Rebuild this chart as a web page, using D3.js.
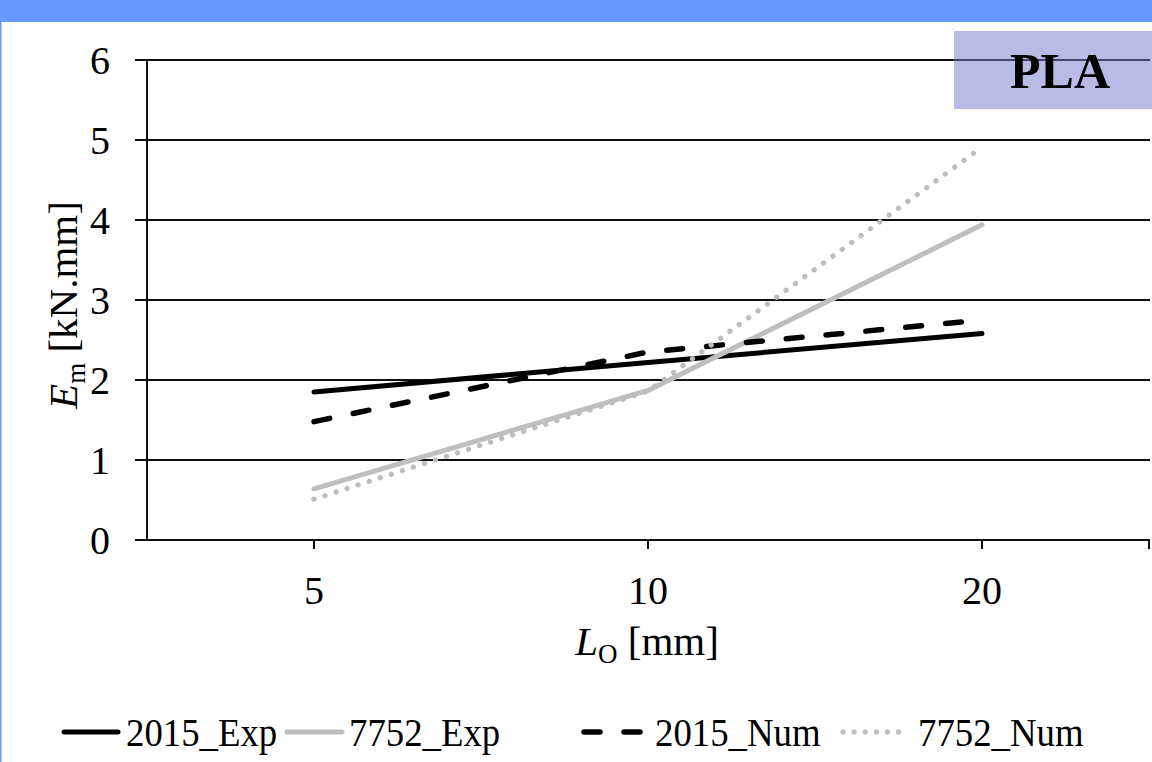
<!DOCTYPE html>
<html>
<head>
<meta charset="utf-8">
<script src="https://cdn.jsdelivr.net/npm/d3@7"></script>
<style>
  body { margin: 0; background: #fff; }
  svg { display: block; }
  text { font-family: "Liberation Serif", "Times New Roman", serif; fill: #000; }
</style>
</head>
<body>
<svg id="chart" width="1152" height="762"></svg>
<script>
// Gauge length categories (mm)
const categories = ["5", "10", "20"];
// Series names
const seriesNames = ["2015_Exp", "7752_Exp", "2015_Num", "7752_Num"];
// E_m values in kN.mm
const exp2015 = [1.85, 2.22, 2.58];
const exp7752 = [0.64, 1.87, 3.94];
const num2015 = [1.48, 2.35, 2.75];
const num7752 = [0.51, 1.86, 4.91];
// Y axis ticks
const yTicks = [0, 1, 2, 3, 4, 5, 6];

const seriesValues = [exp2015, exp7752, num2015, num7752];
const seriesStyle = [
  { color: "#000000", width: 5, dash: null },
  { color: "#BFBFBF", width: 5, dash: null },
  { color: "#000000", width: 5.5, dash: "16,24" },
  { color: "#BDBDBD", width: 5.2, dash: "0.1,11.5" }
];

const svg = d3.select("#chart");
const W = 1152, H = 762;
const plot = { left: 147, right: 1150, top: 60, bottom: 540 };

// frame: blue band on top and thin blue edge on the left
svg.append("rect").attr("x", 0).attr("y", 0).attr("width", W).attr("height", 22).attr("fill", "#6699FF");
svg.append("rect").attr("x", 0).attr("y", 0).attr("width", 1.5).attr("height", H).attr("fill", "#6699FF");

const x = d3.scalePoint().domain(categories).range([plot.left, plot.right - 1]).padding(0.5);
const y = d3.scaleLinear().domain([0, 6]).range([plot.bottom, plot.top]);

// horizontal gridlines (with left tick stubs)
svg.append("g").selectAll("line").data(yTicks).join("line")
  .attr("x1", plot.left - 12).attr("x2", plot.right)
  .attr("y1", d => y(d)).attr("y2", d => y(d))
  .attr("stroke", "#111").attr("stroke-width", 2);

// y axis line
svg.append("line").attr("x1", plot.left).attr("x2", plot.left)
  .attr("y1", y(6)).attr("y2", y(0)).attr("stroke", "#111").attr("stroke-width", 2);

// x tick marks at the category points and at the right end
const xTickPos = categories.map(c => x(c)).concat([plot.right - 1]);
svg.append("g").selectAll("line").data(xTickPos).join("line")
  .attr("x1", d => d).attr("x2", d => d)
  .attr("y1", y(0)).attr("y2", y(0) + 9)
  .attr("stroke", "#111").attr("stroke-width", 2);

// y tick labels
svg.append("g").selectAll("text").data(yTicks).join("text")
  .attr("x", 110).attr("y", d => y(d) + 14)
  .attr("text-anchor", "end").attr("font-size", 40)
  .text(d => d);

// x tick labels
svg.append("g").selectAll("text").data(categories).join("text")
  .attr("x", d => x(d)).attr("y", 604)
  .attr("text-anchor", "middle").attr("font-size", 40)
  .text(d => d);

// axis titles
const xTitle = svg.append("text").attr("x", 647).attr("y", 655)
  .attr("text-anchor", "middle").attr("font-size", 41);
xTitle.append("tspan").attr("font-style", "italic").text("L");
xTitle.append("tspan").attr("font-size", 27).attr("dy", 8).text("O");
xTitle.append("tspan").attr("dy", -8).text(" [mm]");

const yTitle = svg.append("text")
  .attr("transform", "translate(77,305) rotate(-90)")
  .attr("text-anchor", "middle").attr("font-size", 41);
yTitle.append("tspan").attr("font-style", "italic").text("E");
yTitle.append("tspan").attr("font-size", 27).attr("dy", 8).text("m");
yTitle.append("tspan").attr("dy", -8).text(" [kN.mm]");

// series lines
const line = d3.line().x((d, i) => x(categories[i])).y(d => y(d));
svg.append("g").selectAll("path").data(seriesValues).join("path")
  .attr("d", d => line(d))
  .attr("fill", "none")
  .attr("stroke", (d, i) => seriesStyle[i].color)
  .attr("stroke-width", (d, i) => seriesStyle[i].width)
  .attr("stroke-dasharray", (d, i) => seriesStyle[i].dash)
  .attr("stroke-linecap", "round")
  .attr("stroke-linejoin", "round");

// material label box
svg.append("rect").attr("x", 954).attr("y", 31).attr("width", W - 954).attr("height", 78)
  .attr("fill", "rgb(118,118,208)").attr("fill-opacity", 0.5);
svg.append("text").attr("x", 1060).attr("y", 88).attr("text-anchor", "middle")
  .attr("font-size", 50).attr("font-weight", "bold").text("PLA");

// legend
const legendLayout = [
  { lx: 62, len: 58, tx: 126 },
  { lx: 285, len: 59, tx: 349 },
  { lx: 582, len: 65, tx: 655 },
  { lx: 841, len: 62, tx: 918 }
];
const legendY = 732;
const lg = svg.append("g").selectAll("g").data(seriesNames).join("g");
lg.append("line")
  .attr("x1", (d, i) => legendLayout[i].lx + 2)
  .attr("x2", (d, i) => legendLayout[i].lx + legendLayout[i].len - 2)
  .attr("y1", legendY).attr("y2", legendY)
  .attr("stroke", (d, i) => seriesStyle[i].color)
  .attr("stroke-width", (d, i) => seriesStyle[i].width)
  .attr("stroke-dasharray", (d, i) => i === 3 ? "0.1,11" : seriesStyle[i].dash)
  .attr("stroke-linecap", "round");
lg.append("text")
  .attr("transform", (d, i) => `translate(${legendLayout[i].tx},746) scale(0.92,1)`)
  .attr("font-size", 40)
  .text(d => d);
</script>
</body>
</html>
